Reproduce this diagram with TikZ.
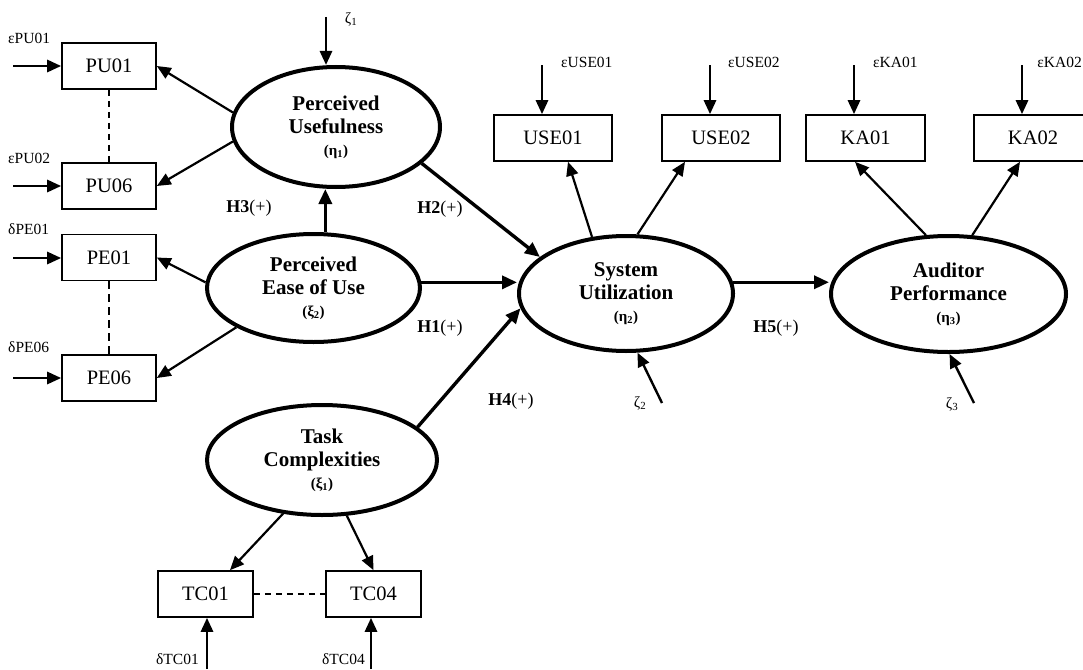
\documentclass[tikz,border=0pt]{standalone}
\usepackage{fontspec}
\setmainfont{Liberation Serif}
\usetikzlibrary{arrows.meta,shapes.geometric}
\begin{document}
\begin{tikzpicture}[x=1pt,y=-1pt,
  ind/.style={draw,line width=1.6pt,minimum width=94pt,minimum height=46pt,inner sep=0pt,font=\fontsize{20.5}{24}\selectfont},
  lat/.style={draw,ellipse,line width=4pt,inner sep=0pt,align=center,font=\fontsize{21}{23}\selectfont\bfseries},
  loading/.style={line width=2.2pt,-{Triangle[length=14pt,width=12pt]}},
  structural/.style={line width=3.4pt,-{Triangle[length=15pt,width=13pt]}},
  err/.style={line width=2.8pt,-{Triangle[length=14pt,width=12pt]}},
  errlab/.style={font=\fontsize{15.5}{18}\selectfont,inner sep=0pt},
  hyp/.style={font=\fontsize{18}{20}\selectfont,inner sep=0pt},
  dashln/.style={line width=1.6pt,dash pattern=on 6pt off 5pt}
]
\useasboundingbox (0,0) rectangle (1083,669);

% indicator boxes
\node[ind] (pu01) at (109,66) {PU01};
\node[ind] (pu06) at (109,186) {PU06};
\node[ind] (pe01) at (109,257.5) {PE01};
\node[ind] (pe06) at (109,378) {PE06};
\node[ind,minimum width=95pt] (tc01) at (205.5,594) {TC01};
\node[ind,minimum width=95pt] (tc04) at (373.5,594) {TC04};
\node[ind,minimum width=118pt] (use01) at (553,138) {USE01};
\node[ind,minimum width=118pt] (use02) at (721,138) {USE02};
\node[ind,minimum width=119pt] (ka01) at (865.5,138) {KA01};
\node[ind,minimum width=118pt] (ka02) at (1033,138) {KA02};

% latent variables
\node[lat,minimum width=208pt,minimum height=120pt] (pu) at (336,127)
  {Perceived\\Usefulness\\[-1pt]{\fontsize{15}{16}\selectfont(η\textsubscript{1})}};
\node[lat,minimum width=213pt,minimum height=108pt] (peou) at (313.5,288)
  {Perceived\\Ease of Use\\[-1pt]{\fontsize{15}{16}\selectfont(ξ\textsubscript{2})}};
\node[lat,minimum width=230pt,minimum height=110pt] (tc) at (322,460)
  {Task\\Complexities\\[-1pt]{\fontsize{15}{16}\selectfont(ξ\textsubscript{1})}};
\node[lat,minimum width=214pt,minimum height=115pt] (su) at (626,293.5)
  {System\\Utilization\\[-1pt]{\fontsize{15}{16}\selectfont(η\textsubscript{2})}};
\node[lat,minimum width=235pt,minimum height=116pt] (ap) at (948.5,294)
  {Auditor\\Performance\\[-1pt]{\fontsize{15}{16}\selectfont(η\textsubscript{3})}};

% dashed links between indicators
\draw[dashln] (pu01.south) -- (pu06.north);
\draw[dashln,line width=2.4pt,dash pattern=on 8pt off 5pt] (pe01.south) -- (pe06.north);
\draw[dashln] (tc01.east) -- (tc04.west);

% loadings
\draw[loading] (pu.172) -- (pu01.east);
\draw[loading] (pu.188) -- (pu06.east);
\draw[loading] (peou.177) -- (pe01.east);
\draw[loading] (peou.207) -- (pe06.east);
\draw[loading] (tc.234) -- ([xshift=24.5pt]tc01.north);
\draw[loading] (tc.294) -- (tc04.north);
\draw[loading] (su.121) -- ([xshift=15pt]use01.south);
\draw[loading] (su.79) -- ([xshift=-36pt]use02.south);
\draw[loading] (ap.111) -- ([xshift=-10.5pt]ka01.south);
\draw[loading] (ap.68) -- ([xshift=-13pt]ka02.south);

% structural paths
\draw[structural] (pu.337) -- (su.157);
\draw[structural] (peou.3) -- (peou.3 -| su.west);
\draw[structural] (tc.19) -- (su.188);
\draw[structural] (su.6) -- (su.6 -| ap.west);
\draw[structural] (peou.78) -- (peou.78 |- pu.south);

% hypothesis labels
\node[hyp] (h3) at (249,208) {\textbf{H3}(+)};
\node[hyp] (h2) at (440,209) {\textbf{H2}(+)};
\node[hyp] (h1) at (440,328) {\textbf{H1}(+)};
\node[hyp] (h4) at (511,401) {\textbf{H4}(+)};
\node[hyp] (h5) at (776,328) {\textbf{H5}(+)};

% measurement errors
\coordinate (epu1) at (13,66);
\coordinate (epu6) at (13,186);
\coordinate (epe1) at (13,258);
\coordinate (epe6) at (13,378);
\draw[err] (epu1) -- (pu01.west);
\draw[err] (epu6) -- (pu06.west);
\draw[err] (epe1) -- (epe1 -| pe01.west);
\draw[err] (epe6) -- (pe06.west);
\node[errlab,anchor=west] (lpu1) at (8,38) {εPU01};
\node[errlab,anchor=west] (lpu6) at (8,158) {εPU02};
\node[errlab,anchor=west] (lpe1) at (8,229) {δPE01};
\node[errlab,anchor=west] (lpe6) at (8,347) {δPE06};

\coordinate (etc1) at (207,669);
\coordinate (etc4) at (371,669);
\draw[err] (etc1) -- (etc1 |- tc01.south);
\draw[err] (etc4) -- (etc4 |- tc04.south);
\node[errlab,anchor=east] (ltc1) at (199,659) {δTC01};
\node[errlab,anchor=east] (ltc4) at (365,659) {δTC04};

\coordinate (eu1) at (542,65);
\coordinate (eu2) at (710,65);
\coordinate (ek1) at (854,65);
\coordinate (ek2) at (1022,65);
\draw[err] (eu1) -- (eu1 |- use01.north);
\draw[err] (eu2) -- (eu2 |- use02.north);
\draw[err] (ek1) -- (ek1 |- ka01.north);
\draw[err] (ek2) -- (ek2 |- ka02.north);
\node[errlab,anchor=west] (lu1) at (561,62) {εUSE01};
\node[errlab,anchor=west] (lu2) at (728,62) {εUSE02};
\node[errlab,anchor=west] (lk1) at (873,62) {εKA01};
\node[errlab,anchor=east] (lk2) at (1082,62) {εKA02};

% structural disturbances
\coordinate (z1) at (326,17);
\coordinate (z2) at (662,403);
\coordinate (z3) at (974,403);
\draw[err] (z1) -- (z1 |- pu.north);
\draw[err,line width=2.4pt] (z2) -- (su.281);
\draw[err,line width=2.4pt] (z3) -- (ap.271);
\node[errlab] (lz1) at (351,19) {ζ\textsubscript{1}};
\node[errlab] (lz2) at (640,403) {ζ\textsubscript{2}};
\node[errlab] (lz3) at (952,404) {ζ\textsubscript{3}};
\end{tikzpicture}
\end{document}
